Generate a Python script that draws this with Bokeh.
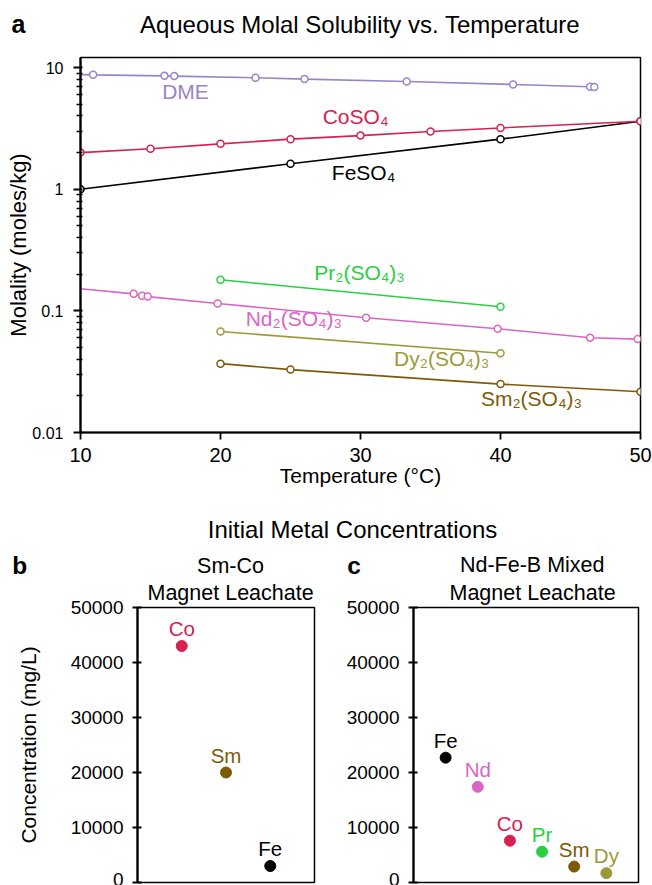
import math
from bokeh.plotting import figure
from bokeh.models import (Range1d, FixedTicker, CustomJSTickFormatter, Label,
                          LabelSet, ColumnDataSource)
from bokeh.core.properties import value
from bokeh.layouts import column, row
from bokeh.embed import file_html
from bokeh.resources import INLINE

FONT = "Liberation Sans"

# ---------------- data: panel a (molality vs temperature) ----------------
dme_T = [10.9, 16.0, 16.7, 22.5, 26.0, 33.3, 40.9, 46.4, 46.7]
dme_m = [8.71, 8.55, 8.51, 8.24, 8.04, 7.69, 7.26, 6.95, 6.93]
dme_start = (10.0, 8.75)

co_T = [10, 15, 20, 25, 30, 35, 40, 50]
co_m = [2.00, 2.15, 2.36, 2.58, 2.76, 2.98, 3.19, 3.62]

fe_T = [10, 25, 40, 50]
fe_m = [1.00, 1.62, 2.58, 3.62]

pr_T = [20, 40]
pr_m = [0.180, 0.108]

nd_T = [13.8, 14.4, 14.8, 19.8, 30.4, 39.8, 46.4, 49.8]
nd_m = [0.138, 0.133, 0.131, 0.115, 0.0877, 0.0713, 0.0601, 0.0586]
nd_start = (10.0, 0.152)

dy_T = [20, 40]
dy_m = [0.0677, 0.0448]

sm_T = [20, 25, 40, 50]
sm_m = [0.0368, 0.0329, 0.0250, 0.0216]

x_ticks = [10, 20, 30, 40, 50]
y_ticks = [0.01, 0.1, 1, 10]
y_minor = [m * d for d in (0.01, 0.1, 1) for m in range(2, 10)]

# ---------------- data: panels b and c ----------------
smco_metals = ["Co", "Sm", "Fe"]
smco_conc = [43000, 20000, 3000]
ndfeb_metals = ["Fe", "Nd", "Co", "Pr", "Sm", "Dy"]
ndfeb_conc = [22700, 17400, 7600, 5600, 2900, 1700]
conc_ticks = [0, 10000, 20000, 30000, 40000, 50000]

COLORS = {
    "DME": "#9b84c6", "Co": "#d8214f", "Fe": "#000000", "Pr": "#27d13f",
    "Nd": "#d966c4", "Dy": "#9c9a38", "Sm": "#7d5a08",
}

fmt = CustomJSTickFormatter(code="return tick.toString();")
W = 652
MID = 0.3465  # centre of the text box above the baseline, in em


def lab(fig, text, x, y, color="black", size=21, align="left",
        xo=0, bold=False):
    """Place a label whose *baseline* is at (x, y)."""
    fig.add_layout(Label(x=x, y=y, text=text, text_color=color,
                         text_font=FONT, text_font_size=f"{size}px",
                         text_align=align, text_baseline="middle",
                         x_offset=xo, y_offset=MID * size,
                         text_font_style="bold" if bold else "normal"))


def strip(height):
    s = figure(output_backend="svg", toolbar_location=None, width=W,
               height=height, x_range=Range1d(0, W),
               y_range=Range1d(height, 0), x_axis_location=None,
               y_axis_location=None, min_border=0, outline_line_color=None)
    s.grid.visible = False
    return s


# ================= header strip (panel a title) =================
s1 = strip(50)
lab(s1, "a", 11, 32, size=25, bold=True)
lab(s1, "Aqueous Molal Solubility vs. Temperature", 359.5, 32.7,
    size=24, align="center")

# ================= panel a =================
p1 = figure(output_backend="svg", toolbar_location=None, y_axis_type="log",
            x_range=Range1d(10, 50), y_range=Range1d(0.01, 12.1),
            frame_width=560, frame_height=375,
            min_border_left=80, min_border_right=12,
            min_border_top=7, min_border_bottom=68)
p1.grid.visible = False
p1.outline_line_color = "black"
p1.outline_line_width = 1.5

p1.xaxis.ticker = FixedTicker(ticks=x_ticks)
p1.xaxis.formatter = fmt
p1.xaxis.axis_line_width = 2.2
p1.xaxis.major_tick_line_width = 1.8
p1.xaxis.major_tick_out = 7
p1.xaxis.major_tick_in = 0
p1.xaxis.minor_tick_line_color = None
p1.xaxis.major_label_text_font = FONT
p1.xaxis.major_label_text_font_size = "20px"
p1.xaxis.major_label_text_color = "black"
p1.xaxis.major_label_standoff = 8
p1.xaxis.axis_label = "Temperature (\u00b0C)"
p1.xaxis.axis_label_text_font = FONT
p1.xaxis.axis_label_text_font_size = "21px"
p1.xaxis.axis_label_text_font_style = "normal"
p1.xaxis.axis_label_text_color = "black"
p1.xaxis.axis_label_standoff = -1

p1.yaxis.ticker = FixedTicker(ticks=y_ticks, minor_ticks=y_minor)
p1.yaxis.formatter = fmt
p1.yaxis.axis_line_width = 2.2
p1.yaxis.major_tick_line_width = 1.8
p1.yaxis.major_tick_out = 7
p1.yaxis.major_tick_in = 2
p1.yaxis.minor_tick_line_width = 1.4
p1.yaxis.minor_tick_out = 4
p1.yaxis.minor_tick_in = 2
p1.yaxis.major_label_text_font = FONT
p1.yaxis.major_label_text_font_size = "16px"
p1.yaxis.major_label_text_color = "black"
p1.yaxis.major_label_standoff = 10
p1.yaxis.axis_label = "Molality (moles/kg)"
p1.yaxis.axis_label_text_font = FONT
p1.yaxis.axis_label_text_font_size = "22px"
p1.yaxis.axis_label_text_font_style = "normal"
p1.yaxis.axis_label_text_color = "black"
p1.yaxis.axis_label_standoff = -2


def series(T, m, color, start=None):
    lx = ([start[0]] if start else []) + list(T)
    ly = ([start[1]] if start else []) + list(m)
    p1.line(lx, ly, line_color=color, line_width=1.6)
    p1.scatter(T, m, marker="circle", size=7, line_color=color,
               line_width=1.5, fill_color="white")


series(fe_T, fe_m, COLORS["Fe"])
series(dme_T, dme_m, COLORS["DME"], dme_start)
series(co_T, co_m, COLORS["Co"])
series(pr_T, pr_m, COLORS["Pr"])
series(nd_T, nd_m, COLORS["Nd"], nd_start)
series(dy_T, dy_m, COLORS["Dy"])
series(sm_T, sm_m, COLORS["Sm"])

# series names (anchored at their baselines)
lab(p1, "DME", 17.5, 5.55, COLORS["DME"], align="center")
lab(p1, "CoSO\u2084", 27.3, 3.43, COLORS["Co"])
lab(p1, "FeSO\u2084", 27.95, 1.185, COLORS["Fe"])
lab(p1, "Pr\u2082(SO\u2084)\u2083", 26.7, 0.180, COLORS["Pr"])
lab(p1, "Nd\u2082(SO\u2084)\u2083", 21.8, 0.0748, COLORS["Nd"])
lab(p1, "Dy\u2082(SO\u2084)\u2083", 32.4, 0.0352, COLORS["Dy"])
lab(p1, "Sm\u2082(SO\u2084)\u2083", 38.6, 0.0166, COLORS["Sm"])

# ================= header strip (panels b, c) =================
s2 = strip(79)
lab(s2, "Initial Metal Concentrations", 352, 37, size=24, align="center")
lab(s2, "b", 11.7, 573.5 - 500, size=24.5, bold=True)
lab(s2, "Sm-Co", 230, 73.3, size=21.5, align="center")
lab(s2, "c", 346.7, 573.5 - 500, size=24.5, bold=True)
lab(s2, "Nd-Fe-B Mixed", 531.7, 71.7, size=21.5, align="center")


# ================= panels b and c =================
def conc_panel(metals, conc, left, fw, right, sub, sub_offset, ylabel=None):
    n = len(metals)
    p = figure(output_backend="svg", toolbar_location=None,
               x_axis_location=None,
               x_range=Range1d(0, n + 1), y_range=Range1d(0, 50000),
               frame_width=fw, frame_height=275,
               min_border_left=left, min_border_right=right,
               min_border_top=28, min_border_bottom=3)
    p.title.text = sub
    p.title.align = "left"
    p.title.vertical_align = "top"
    p.title.offset = sub_offset
    p.title.standoff = 2
    p.title.text_font = FONT
    p.title.text_font_size = "21.5px"
    p.title.text_font_style = "normal"
    p.title.text_color = "black"
    p.grid.visible = False
    p.outline_line_color = "black"
    p.outline_line_width = 1.5
    p.yaxis.ticker = FixedTicker(ticks=conc_ticks)
    p.yaxis.formatter = fmt
    p.yaxis.axis_line_width = 2.2
    p.yaxis.major_tick_line_width = 1.8
    p.yaxis.major_tick_out = 5
    p.yaxis.major_tick_in = 4
    p.yaxis.minor_tick_line_color = None
    p.yaxis.major_label_text_font = FONT
    p.yaxis.major_label_text_font_size = "19px"
    p.yaxis.major_label_text_color = "black"
    p.yaxis.major_label_standoff = 9
    if ylabel:
        p.yaxis.axis_label = ylabel
        p.yaxis.axis_label_text_font = FONT
        p.yaxis.axis_label_text_font_size = "21px"
        p.yaxis.axis_label_text_font_style = "normal"
        p.yaxis.axis_label_text_color = "black"
        p.yaxis.axis_label_standoff = 28

    src = ColumnDataSource(dict(x=list(range(1, n + 1)), y=conc, name=metals,
                                color=[COLORS[m] for m in metals]))
    p.scatter("x", "y", source=src, marker="circle", size=11,
              fill_color="color", line_color="color")
    p.add_layout(LabelSet(x="x", y="y", text="name", source=src,
                          text_color="color", text_font=value(FONT),
                          text_font_size=value("20.5px"), text_align="center",
                          text_baseline="alphabetic", y_offset=10))
    return p


pb = conc_panel(smco_metals, smco_conc, 137, 177, 16, "Magnet Leachate", 10,
                ylabel="Concentration (mg/L)")
pc = conc_panel(ndfeb_metals, ndfeb_conc, 83, 225, 14, "Magnet Leachate", 36)

layout = column(row(s1), p1, row(s2), row(pb, pc), spacing=0)
open("out.html", "w").write(file_html(layout, INLINE))
